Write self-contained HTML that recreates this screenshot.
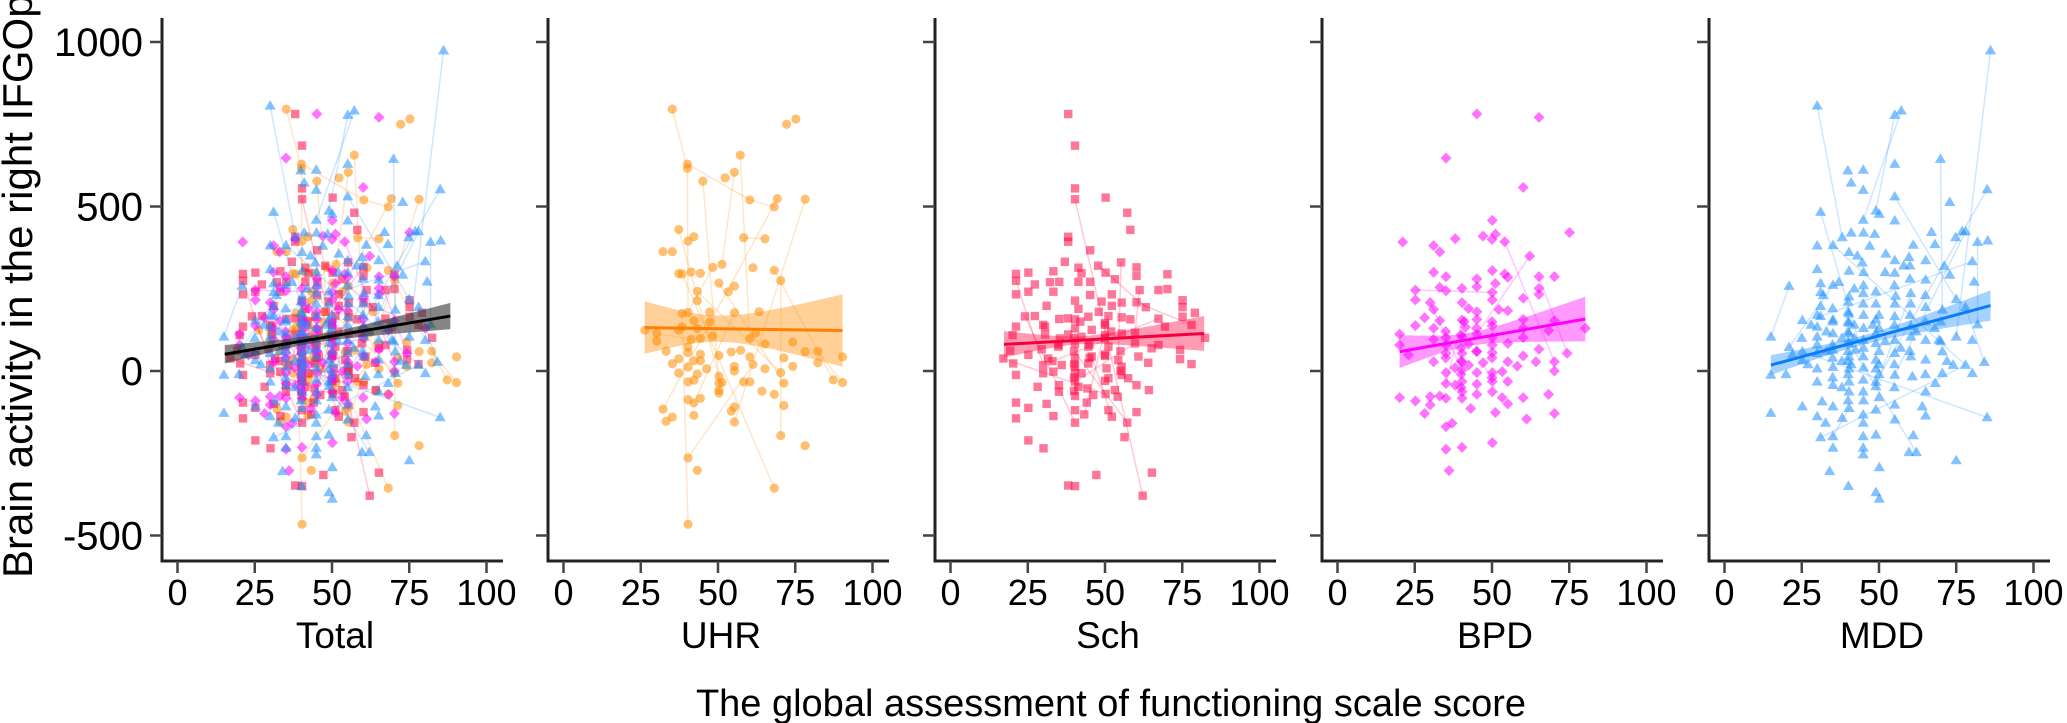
<!DOCTYPE html>
<html><head><meta charset="utf-8"><style>
html,body{margin:0;padding:0;background:#fff;}
svg{display:block;font-family:"Liberation Sans",Arial,sans-serif;}
</style></head><body>
<svg id="chart" width="2067" height="723" viewBox="0 0 2067 723" xmlns="http://www.w3.org/2000/svg">
<text transform="translate(32,578) rotate(-90)" font-size="42" fill="#000">Brain activity in the right IFGOp</text>
<text x="1111" y="716" font-size="38" text-anchor="middle" fill="#000">The global assessment of functioning scale score</text>
<g id="plots"></g>
</svg>
<script>
const panelNames = ['Total','UHR','Sch','BPD','MDD'];
const yTicks = [1000,500,0,-500];
const yTickLabels = ['1000','500','0','-500'];
const xTicks = [0,25,50,75,100];
const xTickLabels = ['0','25','50','75','100'];

const uhrX = [35.2,40.1,40.1,45.1,57.2,55.3,52.3,60.3,68.2,69.2,72.2,75.2,78.2,37.3,40.3,42.2,32.2,35.2,58.3,65.2,37.3,38.4,41.3,44.3,48.3,51.3,50.3,61.3,68.2,70.3,43.3,43.3,53.3,55.3,55.3,63.3,38.4,40.3,47.3,42.2,47.3,26.3,30.2,30.2,38.4,37.3,43.3,48.3,44.3,41.3,62.2,60.3,65.2,74.2,33.2,40.3,40.3,44.3,50.3,54.3,57.3,78.2,82.3,82.3,90.3,35.2,37.3,40.3,42.2,44.3,46.3,60.3,61.3,71.3,55.3,55.3,65.2,74.2,37.3,43.3,40.3,42.2,50.3,50.3,51.3,58.3,60.3,70.3,71.3,87.3,90.3,50.3,50.3,64.2,68.2,40.3,42.2,44.3,71.3,32.2,33.2,35.2,42.2,54.3,55.3,55.3,70.3,78.2,40.3,43.3,68.2,40.3];
const uhrY = [796,629,616,577,656,604,587,520,499,524,750,766,522,430,395,408,363,363,405,402,296,295,301,297,315,324,267,314,306,275,242,214,241,258,177,180,175,178,179,153,149,124,114,91,134,124,129,106,99,96,116,99,82,88,60,73,56,51,47,58,63,59,60,25,43,22,37,12,31,31,7,43,20,40,14,0,7,14,-6,-9,-33,-28,-16,-37,-35,-33,-33,-5,-37,-27,-35,-59,-67,-61,-71,-87,-97,-83,-105,-116,-153,-140,-135,-122,-109,-155,-196,-227,-264,-302,-356,-466];
const uhrLinks = [[0,2],[1,7],[7,8],[2,37],[3,83],[4,51],[5,25],[9,99],[12,105],[13,82],[18,19],[21,110],[24,37],[28,89],[29,106],[30,87],[34,96],[42,49],[36,111],[62,90],[72,108],[26,88]];

const schX = [38.1,40.3,40.3,40.3,50.2,57.2,58.2,38.1,38.1,45.2,37.0,55.2,47.8,60.2,70.2,21.2,25.2,33.3,41.4,42.4,50.2,21.2,27.3,32.2,35.2,41.4,45.2,53.2,60.2,21.2,25.2,33.3,45.2,52.2,61.2,67.3,70.2,40.3,48.9,55.4,60.2,75.1,31.1,41.4,52.2,63.2,75.1,24.1,27.3,35.2,40.3,44.6,51.1,55.4,58.2,67.3,75.1,79.1,21.2,30.6,40.3,50.0,69.4,78.0,20.1,30.6,35.4,38.1,42.4,45.7,50.0,55.4,59.7,82.4,19.3,29.5,34.9,40.3,44.6,51.1,59.7,65.1,67.3,74.3,17.1,25.2,31.6,40.3,45.7,50.0,54.3,60.8,74.3,78.0,20.3,30.0,36.0,40.3,44.6,50.5,55.4,64.0,21.2,30.0,33.3,40.3,42.4,51.1,55.4,57.5,40.3,41.4,28.2,35.1,35.1,44.3,53.2,60.2,64.2,40.3,46.2,50.2,54.1,21.2,31.1,44.1,25.2,40.3,43.3,51.1,52.2,60.2,21.2,33.3,40.3,57.2,56.3,25.2,30.1,47.2,65.2,38.1,40.3,62.2,40,40,40,40,40,42,45,45,50,50,50,50,55,55,35,33,30,38,48,52];
const schY = [781,685,555,522,527,481,429,408,393,367,332,330,320,315,294,295,299,303,314,297,299,274,263,270,271,271,271,279,289,233,241,241,231,233,246,246,249,214,211,208,209,215,198,189,198,194,194,166,167,158,157,165,167,163,157,159,165,177,135,135,130,145,135,140,109,111,99,111,104,125,109,114,116,101,62,66,74,84,74,74,84,69,79,64,38,49,38,38,44,46,33,44,36,21,23,18,18,13,23,8,13,25,-12,-7,-2,-7,-7,-22,-12,-22,-32,-48,-48,-43,-63,-53,-58,-43,-58,-76,-73,-70,-78,-96,-100,-96,-112,-119,-132,-119,-139,-125,-144,-137,-157,-157,-201,-211,-235,-316,-309,-348,-350,-379,60,100,20,-20,-60,150,80,40,100,50,140,-30,60,0,80,30,140,160,180,120];
const schLinks = [[12,45],[21,95],[40,63],[47,134],[52,128],[3,143],[135,144],[34,72],[80,110],[84,121],[55,95],[60,119],[88,130],[11,90]];

const bpdX = [45.1,65.2,35.1,60.1,50.1,75.1,21.1,38.1,47.1,51.1,50.0,54.1,31.1,33.1,62.2,31.1,35.1,50.1,54.1,55.1,65.2,70.2,45.1,45.1,51.1,25.2,33.1,35.1,40.3,50.1,65.2,65.2,25.2,30.0,40.3,50.1,60.1,31.1,42.4,45.1,52.2,55.1,28.2,33.1,40.3,45.1,60.1,70.2,25.2,31.1,41.4,50.1,60.1,80.2,20.1,35.1,40.3,45.1,50.1,60.1,68.3,20.1,31.1,35.1,42.4,50.1,55.1,23.0,35.1,40.3,45.1,50.1,60.1,65.2,74.3,31.1,40.3,42.4,47.1,55.1,58.2,64.2,70.2,35.1,40.3,45.1,50.1,53.3,70.2,35.1,38.1,40.3,45.1,50.1,55.1,40.3,50.1,20.1,25.2,30.0,33.1,35.1,40.3,45.1,53.3,60.1,68.3,28.2,30.0,43.1,51.1,55.1,61.2,70.2,35.1,37.1,35.1,40.3,50.1,36.1,40,40,40,40,40,41,45,45,50,50,50,35,35,38];
const bpdY = [781,771,647,558,458,421,392,402,410,416,400,393,381,362,349,300,287,305,295,285,287,287,280,256,266,246,254,244,251,239,251,233,216,208,208,216,221,187,190,180,187,183,162,153,155,157,157,153,138,130,133,137,130,130,112,102,104,112,102,102,123,79,96,79,82,79,84,49,54,54,59,56,46,66,54,28,28,18,25,28,15,28,28,-5,3,-5,-5,-2,0,-38,-43,-32,-40,-32,-32,-63,-63,-81,-91,-78,-76,-83,-83,-71,-81,-81,-71,-129,-103,-114,-126,-100,-146,-129,-169,-159,-238,-232,-218,-303,70,30,-10,-50,110,150,60,130,40,150,-20,40,120,10];
const bpdLinks = [[25,29],[11,82],[14,57],[20,74],[59,66],[44,89],[78,93],[33,84]];

const mddX = [86.1,30.0,55.1,57.2,69.9,85.0,39.9,44.9,41.0,44.9,55.1,55.1,72.9,31.1,49.0,50.1,44.9,55.1,41.0,38.1,48.6,67.0,76.9,78.0,74.8,81.9,85.2,30.0,35.1,61.1,68.1,40.3,52.2,55.1,59.7,65.1,80.2,30.0,40.3,44.6,55.1,71.1,72.9,20.9,31.1,35.1,80.8,31.1,40.3,44.9,49.0,55.4,60.3,65.1,75.0,31.1,40.3,44.9,49.0,55.1,60.3,65.1,78.0,25.2,31.1,35.1,40.3,49.0,55.1,60.3,70.5,81.9,15.0,30.0,30.0,35.1,40.3,40.3,42.4,44.9,49.0,49.0,55.1,60.3,65.1,69.4,75.0,80.2,20.9,25.2,30.0,35.1,40.3,44.9,49.0,55.1,60.3,65.1,70.5,78.0,84.1,15.0,19.9,25.2,30.0,35.1,40.3,40.3,44.9,49.0,49.0,55.1,60.8,65.1,70.5,74.0,80.2,30.0,35.1,40.3,44.9,49.0,68.2,15.0,25.2,30.0,31.6,35.1,38.1,40.3,44.9,49.0,55.1,55.1,64.0,65.1,85.0,32.7,44.9,31.1,35.1,44.9,49.0,61.1,35.1,44.9,44.9,59.7,62.1,75.0,34.0,50.1,40.1,49.0,50.1,40,40,40,40,40,40,40,40,40,41,42,42,45,45,45,45,45,45,45,48,50,50,50,50,50,50,52,35,35,35,35,35,33,33,30,30,38,38,38,55,55,55,55,57,60,60,60,62,65,65,65,68,70,70,72,25,27,22,43,47,45,52,58,60,28,32,37,42];
const mddY = [974,806,778,791,644,552,609,611,572,550,629,530,513,483,487,477,459,457,420,406,416,422,424,424,406,392,396,381,382,383,385,361,356,336,346,336,333,309,304,329,298,319,292,258,266,261,271,239,226,236,241,228,236,277,218,197,174,204,204,204,204,194,194,154,166,156,146,156,166,136,186,141,104,134,104,114,114,84,64,94,114,84,94,104,94,94,104,94,72,59,54,64,44,44,34,54,44,34,59,18,27,-12,-10,32,7,12,7,-33,-27,7,-33,-12,-17,-63,-7,18,-7,-33,-43,-63,-63,-47,-37,-128,-108,-138,-93,-108,-143,-113,-133,-118,-103,-148,-108,-136,-141,-158,-158,-202,-199,-199,-194,-196,-234,-234,-254,-247,-247,-272,-305,-293,-350,-369,-389,30,60,90,120,150,180,210,-10,-90,20,100,140,10,70,130,170,260,300,-90,140,20,60,130,170,-10,-80,90,40,80,150,190,-20,120,60,80,170,100,30,-50,140,20,-50,260,70,60,170,280,120,150,-10,230,130,90,150,30,100,20,50,350,380,420,300,320,320,140,230,270,250];
const mddLinks = [[0,86],[1,19],[2,14],[3,16],[4,70],[5,110],[13,93],[11,54],[25,71],[28,99],[43,72],[62,100],[136,89],[148,157],[140,129],[23,111],[36,64],[52,121],[139,99],[45,88]];

const fitGroup = ['Total','UHR','Sch','BPD','MDD'];
const fitX0 = [15.3,26.3,17.3,20.1,15.0];
const fitX1 = [88.3,90.3,82.1,80.2,86.1];
const fitY0 = [51,132,81,59,18];
const fitY1 = [167,123,114,158,199];
const fitXc = [45,50,42,42,45];
const bandLeft = [28,80,40,50,30];
const bandMid = [12,40,12,20,14];
const bandRight = [40,110,53,68,46];

const NS='http://www.w3.org/2000/svg';
const root=document.getElementById('plots');
const panelLeft=[162,548,935,1322,1709];
function xs(v,p){return panelLeft[p]+15.5+v*3.09;}
function ys(v){return 371-v*0.329;}
function mk(tag,attrs,parent){const e=document.createElementNS(NS,tag);for(const k in attrs)e.setAttribute(k,attrs[k]);(parent||root).appendChild(e);return e;}

const groups={
 UHR:{x:uhrX,y:uhrY,links:uhrLinks,color:'#ff8c00',shape:'circle',line:'#ff7f00',band:'#ff8c00'},
 Sch:{x:schX,y:schY,links:schLinks,color:'#ff0844',shape:'square',line:'#f5003c',band:'#ff0844'},
 BPD:{x:bpdX,y:bpdY,links:bpdLinks,color:'#ff00ff',shape:'diamond',line:'#ff00ff',band:'#ff00ff'},
 MDD:{x:mddX,y:mddY,links:mddLinks,color:'#1e8fff',shape:'triangle',line:'#0a7cf5',band:'#1e8fff'}
};

function marker(g,shape,cx,cy,color,name){
  let e;
  if(shape==='circle') e=mk('circle',{cx:cx,cy:cy,r:4.6,fill:color,'fill-opacity':0.55},g);
  else if(shape==='square') e=mk('rect',{x:cx-4.2,y:cy-4.2,width:8.4,height:8.4,fill:color,'fill-opacity':0.55},g);
  else if(shape==='diamond') e=mk('polygon',{points:`${cx},${cy-5.5} ${cx+5.5},${cy} ${cx},${cy+5.5} ${cx-5.5},${cy}`,fill:color,'fill-opacity':0.55},g);
  else e=mk('polygon',{points:`${cx},${cy-5.8} ${cx+5.6},${cy+3.8} ${cx-5.6},${cy+3.8}`,fill:color,'fill-opacity':0.55},g);
  
  
}

function drawGroup(key,p,g){
  const G=groups[key];
  const n=Math.min(G.x.length,G.y.length);
  G.links.forEach(l=>{
    if(l[0]<n&&l[1]<n){
      const ln=mk('line',{x1:xs(G.x[l[0]],p),y1:ys(G.y[l[0]]),x2:xs(G.x[l[1]],p),y2:ys(G.y[l[1]]),stroke:G.color,'stroke-opacity':0.22,'stroke-width':1.5},g);
      
      
    }
  });
  for(let i=0;i<n;i++) marker(g,G.shape,xs(G.x[i],p),ys(G.y[i]),G.color,key.toLowerCase()+'-point');
}

function drawFit(fi,p,g,lineColor,bandColor,bandOp){
  const x0=fitX0[fi],x1=fitX1[fi],xc=fitXc[fi];
  const slope=(fitY1[fi]-fitY0[fi])/(x1-x0);
  const f=x=>fitY0[fi]+slope*(x-x0);
  const hw=x=>{const M=bandMid[fi];let t,L;if(x<xc){t=(xc-x)/(xc-x0);L=bandLeft[fi];}else{t=(x-xc)/(x1-xc);L=bandRight[fi];}return Math.sqrt(M*M+(L*L-M*M)*t*t);};
  const up=[],dn=[];
  for(let k=0;k<=40;k++){const x=x0+(x1-x0)*k/40;up.push(xs(x,p)+','+ys(f(x)+hw(x)));dn.unshift(xs(x,p)+','+ys(f(x)-hw(x)));}
  const band=mk('polygon',{points:up.concat(dn).join(' '),fill:bandColor,'fill-opacity':bandOp},g);
  
  
  const ln=mk('line',{x1:xs(x0,p),y1:ys(f(x0)),x2:xs(x1,p),y2:ys(f(x1)),stroke:lineColor,'stroke-width':3},g);
  
  
}

panelNames.forEach((name,p)=>{
  const L=panelLeft[p];
  const g=mk('g',{});
  
  
  const pts=mk('g',{},g);
  
  
  if(p===0){['UHR','Sch','BPD','MDD'].forEach(k=>drawGroup(k,0,pts));drawFit(0,0,g,'#000','#333',0.6);}
  else{drawGroup(name,p,pts);const G=groups[name];drawFit(p,p,g,G.line,G.band,0.4);}
  const ya=mk('line',{x1:L,y1:18,x2:L,y2:562,stroke:'#222','stroke-width':3},g);
  
  
  const xa=mk('line',{x1:L-1.5,y1:561,x2:L+341,y2:561,stroke:'#222','stroke-width':3},g);
  
  
  yTicks.forEach((t,i)=>{
    const tk=mk('line',{x1:L-12,y1:ys(t),x2:L,y2:ys(t),stroke:'#444','stroke-width':2.5},g);
    
    
    if(p===0){
      const tl=mk('text',{x:L-19,y:ys(t)+14,'font-size':40,'text-anchor':'end',fill:'#000'},g);
      tl.textContent=yTickLabels[i];
      
      
    }
  });
  xTicks.forEach((t,i)=>{
    const tk=mk('line',{x1:xs(t,p),y1:561,x2:xs(t,p),y2:573,stroke:'#444','stroke-width':2.5},g);
    
    
    const tl=mk('text',{x:xs(t,p),y:605,'font-size':36,'text-anchor':'middle',fill:'#000'},g);
    tl.textContent=xTickLabels[i];
    
    
  });
  const pl=mk('text',{x:L+173,y:648,'font-size':37,'text-anchor':'middle',fill:'#000'},g);
  pl.textContent=name;
  
  
});
</script>
</body></html>
